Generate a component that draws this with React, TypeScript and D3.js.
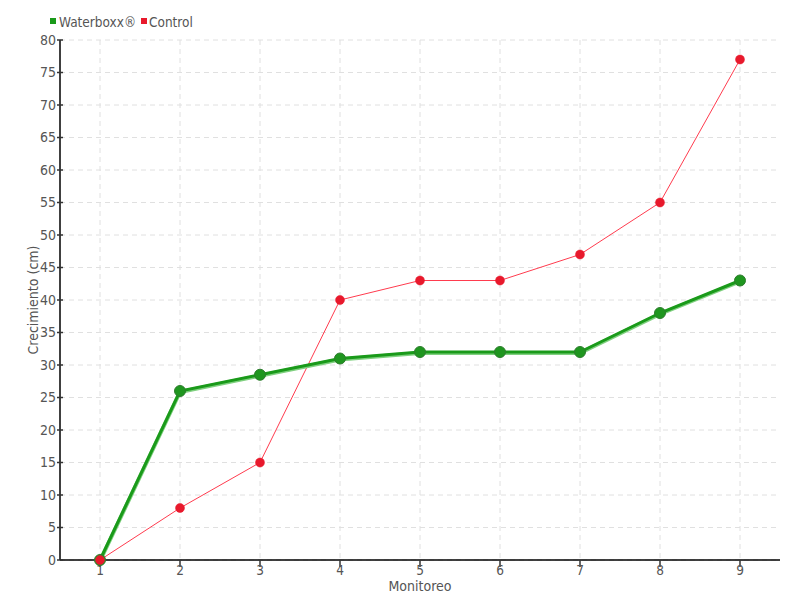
import React from "react";
import * as d3 from "d3";

const monitoreo = [1, 2, 3, 4, 5, 6, 7, 8, 9];
const waterboxx = [0, 26, 28.5, 31, 32, 32, 32, 38, 43];
const control = [0, 8, 15, 40, 43, 43, 47, 55, 77];
const yTicks = d3.range(0, 81, 5);

export default function App() {
  const W = 800, H = 600;
  const left = 60, right = 780, top = 40, bottom = 560;
  const x = d3.scaleLinear().domain([0.5, 9.5]).range([left, right]);
  const y = d3.scaleLinear().domain([0, 80]).range([bottom, top]);
  const font = "'DejaVu Sans Condensed', 'Liberation Sans Narrow', sans-serif";
  const textColor = "#555";
  const line = d3.line<number>().x((_, i) => x(monitoreo[i])).y((d) => y(d));

  return (
    <svg width={W} height={H} style={{ position: "absolute", left: 0, top: 0 }} fontFamily={font}>
      <rect width={W} height={H} fill="#fff" />
      {/* grid */}
      {yTicks.map((t) => (
        <line key={"gy" + t} x1={left} x2={right} y1={y(t)} y2={y(t)} stroke="#e0e0e0" strokeDasharray="5,4" />
      ))}
      {monitoreo.map((m) => (
        <line key={"gx" + m} x1={x(m)} x2={x(m)} y1={top} y2={bottom} stroke="#e0e0e0" strokeDasharray="5,4" />
      ))}
      {/* axes */}
      <line x1={left} x2={left} y1={top} y2={bottom} stroke="#000" strokeWidth={1.5} />
      <line x1={left} x2={right} y1={bottom} y2={bottom} stroke="#000" strokeWidth={1.5} />
      {yTicks.map((t) => (
        <g key={"ty" + t}>
          <line x1={left - 3} x2={left + 3} y1={y(t)} y2={y(t)} stroke="#333" strokeWidth={1.5} />
          <text x={left - 4} y={y(t)} dy="0.35em" textAnchor="end" fontSize={14} fill={textColor}>{t}</text>
        </g>
      ))}
      {monitoreo.map((m) => (
        <g key={"tx" + m}>
          <line x1={x(m)} x2={x(m)} y1={bottom} y2={bottom + 7} stroke="#333" strokeWidth={1.5} />
          <text x={x(m)} y={bottom + 15} textAnchor="middle" fontSize={13.5} fill={textColor}>{m}</text>
        </g>
      ))}
      <text x={420} y={591} textAnchor="middle" fontSize={14} fill={textColor}>Monitoreo</text>
      <text transform={`translate(38,${(top + bottom) / 2}) rotate(-90)`} textAnchor="middle" fontSize={14} fill={textColor}>Crecimiento (cm)</text>
      {/* control */}
      <path d={line(control) || ""} fill="none" stroke="#ff3b4e" strokeWidth={1} />
      {/* waterboxx */}
      <path d={line(waterboxx) || ""} fill="none" stroke="#7fd07f" strokeWidth={4} transform="translate(0,1)" />
      <path d={line(waterboxx) || ""} fill="none" stroke="#1a9a1a" strokeWidth={3} />
      {waterboxx.map((v, i) => (
        <circle key={"wb" + i} cx={x(monitoreo[i])} cy={y(v)} r={5.5} fill="#1f961f" stroke="#2e7d2e" strokeWidth={1} />
      ))}
      {control.map((v, i) => (
        <circle key={"c" + i} cx={x(monitoreo[i])} cy={y(v)} r={4.5} fill="#e8192c" stroke="#e8192c" strokeWidth={0.5} />
      ))}
      {/* legend */}
      <rect x={50} y={18} width={6} height={6} fill="#1a9a1a" />
      <text x={59} y={27} fontSize={13.5} fill={textColor}>Waterboxx®</text>
      <rect x={141} y={18} width={6} height={6} fill="#e8192c" />
      <text x={149} y={27} fontSize={13.5} fill={textColor}>Control</text>
    </svg>
  );
}
